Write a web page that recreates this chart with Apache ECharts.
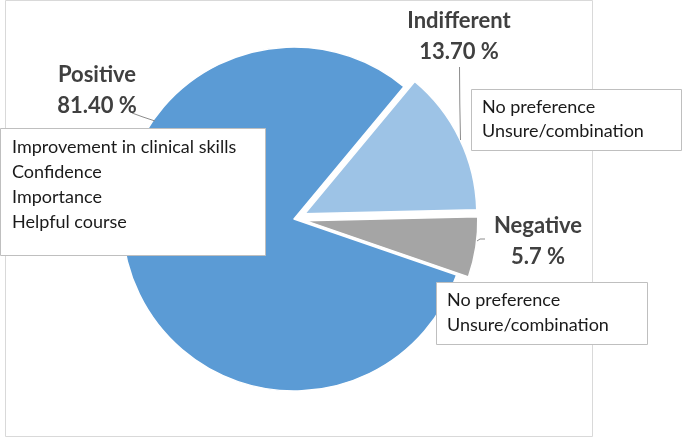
<!DOCTYPE html>
<html>
<head>
<meta charset="utf-8">
<script src="https://cdn.jsdelivr.net/npm/echarts@6/dist/echarts.min.js"></script>
<style>
html,body{margin:0;padding:0;background:#fff;}
#chart{width:682px;height:438px;}
</style>
</head>
<body>
<div id="chart"></div>
<script>
// ---- data ----
var categories = ['Positive', 'Indifferent', 'Negative'];
var values = [81.4, 13.7, 5.7];
var valueLabels = ['81.40 %', '13.70 %', '5.7 %'];
var exploded = [false, true, true];
var colors = ['#5B9BD5', '#9DC3E6', '#A5A5A5'];
var notePositive = ['Improvement in clinical skills', 'Confidence', 'Importance', 'Helpful course'];
var noteIndifferent = ['No preference', 'Unsure/combination'];
var noteNegative = ['No preference', 'Unsure/combination'];

// ---- layout (styles only) ----
var labelPos = [
  {x: 97, y: 90, line: [[132, 113], [143, 117], [155, 121]]},
  {x: 459, y: 36, line: [[459.5, 67], [459.8, 104], [460.5, 140]]},
  {x: 538, y: 241, line: [[477, 241], [480, 239], [485, 239]]}
];
var PIE_CENTER = [294, 219];
var PIE_RADIUS = 172;
var START_ANGLE = -19;

var chart = echarts.init(document.getElementById('chart'));

function noteBox(lines, x, y, w, h, tx, ty, lh) {
  var els = [{
    type: 'rect', z: 100,
    shape: {x: x, y: y, width: w, height: h},
    style: {fill: '#fff', stroke: '#BFBFBF', lineWidth: 1}
  }];
  lines.forEach(function (t, i) {
    els.push({
      type: 'text', z: 101,
      style: {
        x: tx, y: ty + i * lh, text: t,
        font: '18px Lato', fill: '#1a1a1a',
        verticalAlign: 'middle', align: 'left'
      }
    });
  });
  return els;
}

var sliceData = categories.map(function (c, i) {
  return {
    name: c,
    value: values[i],
    selected: exploded[i],
    itemStyle: {color: colors[i]}
  };
});
var labelData = categories.map(function (c, i) {
  return {name: c, value: values[i]};
});

chart.setOption({
  animation: false,
  backgroundColor: '#fff',
  graphic: [].concat(
    [{
      type: 'rect', z: -10,
      shape: {x: 5.5, y: 0.5, width: 587, height: 436},
      style: {fill: 'none', stroke: '#D9D9D9', lineWidth: 1}
    }],
    noteBox(notePositive, 0.5, 128.5, 265, 127, 12, 147, 25),
    noteBox(noteIndifferent, 471.5, 89.5, 210, 61, 482, 107, 24.5),
    noteBox(noteNegative, 436.5, 282.5, 211, 62, 447, 300, 25)
  ),
  series: [{
    type: 'pie',
    name: 'slices',
    center: PIE_CENTER,
    radius: [0, PIE_RADIUS],
    startAngle: START_ANGLE,
    clockwise: true,
    selectedMode: 'multiple',
    selectedOffset: 12,
    emphasis: {disabled: true},
    itemStyle: {borderColor: '#fff', borderWidth: 1.5},
    label: {show: false},
    labelLine: {show: false},
    data: sliceData
  }, {
    type: 'pie',
    name: 'labels',
    z: 3,
    center: PIE_CENTER,
    radius: [0, PIE_RADIUS],
    startAngle: START_ANGLE,
    clockwise: true,
    silent: true,
    selectedMode: false,
    emphasis: {disabled: true},
    itemStyle: {color: 'rgba(0,0,0,0)', borderWidth: 0},
    label: {
      show: true,
      overflow: 'none',
      formatter: function (p) { return p.name + '\n' + valueLabels[p.dataIndex]; },
      fontFamily: 'Lato',
      fontWeight: 'bold',
      fontSize: 22,
      lineHeight: 31,
      color: '#404040',
      align: 'center'
    },
    labelLine: {
      show: true,
      minTurnAngle: 0,
      maxSurfaceAngle: 180,
      lineStyle: {color: '#8C8C8C', width: 1}
    },
    labelLayout: function (p) {
      var lp = labelPos[p.dataIndex];
      return {
        x: lp.x, y: lp.y,
        align: 'center', verticalAlign: 'middle',
        labelLinePoints: lp.line
      };
    },
    data: labelData
  }]
});
</script>
</body>
</html>
